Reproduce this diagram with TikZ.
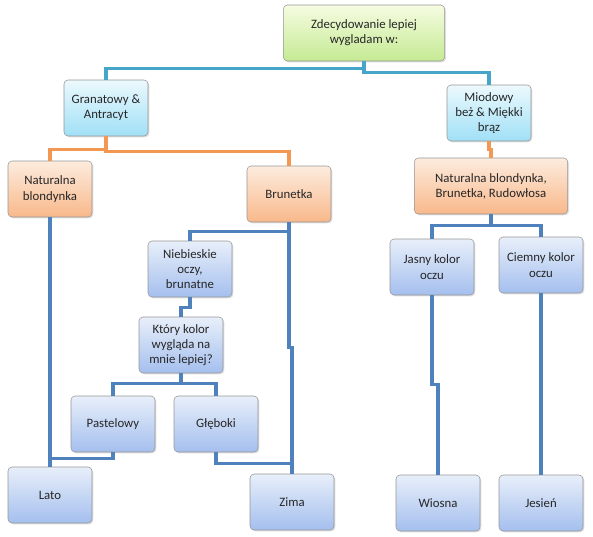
\documentclass[tikz,border=0pt]{standalone}
\usepackage{fontspec}
\setmainfont{Carlito}
\usetikzlibrary{shadows}
\definecolor{LineTeal}{RGB}{70,165,200}
\definecolor{LineOrange}{RGB}{242,152,82}
\definecolor{LineBlue}{RGB}{79,129,189}
\definecolor{BoxBorder}{RGB}{150,150,150}
\definecolor{GreenTop}{RGB}{246,252,226}
\definecolor{GreenBot}{RGB}{196,234,146}
\definecolor{CyanTop}{RGB}{236,249,253}
\definecolor{CyanBot}{RGB}{160,224,246}
\definecolor{OrangeTop}{RGB}{253,236,222}
\definecolor{OrangeBot}{RGB}{248,184,138}
\definecolor{BlueTop}{RGB}{232,239,250}
\definecolor{BlueBot}{RGB}{164,191,238}

\begin{document}
\begin{tikzpicture}[x=0.75pt,y=-0.75pt,
      card/.style={draw=BoxBorder,rounded corners=3pt,align=center,
        minimum width=63pt,minimum height=42pt,inner sep=2pt,
        font=\fontsize{9.6}{11.4}\selectfont,text=black!85,
        drop shadow={opacity=0.25,shadow xshift=1pt,shadow yshift=-1pt}},
      greenbox/.style={card,top color=GreenTop,bottom color=GreenBot},
      cyanbox/.style={card,top color=CyanTop,bottom color=CyanBot},
      orangebox/.style={card,top color=OrangeTop,bottom color=OrangeBot},
      bluebox/.style={card,top color=BlueTop,bottom color=BlueBot},
      link/.style={line width=2.4pt},
      tealflow/.style={link,draw=LineTeal},
      orangeflow/.style={link,draw=LineOrange},
      blueflow/.style={link,draw=LineBlue}
    ]
      \useasboundingbox (0,0) rectangle (593,536);
      % top level
      \node[greenbox,minimum width=121pt] (decide) at (364,33)
        {Zdecydowanie lepiej\\wygladam w:};
      \node[cyanbox] (granat) at (106,108) {Granatowy \&\\Antracyt};
      \node[cyanbox] (miodowy) at (489,113) {Miodowy\\beż \& Miękki\\brąz};
      % hair colour
      \node[orangebox] (blond) at (50,189) {Naturalna\\blondynka};
      \node[orangebox] (brunetka) at (289,194) {Brunetka};
      \node[orangebox,minimum width=115pt] (allhair) at (491,186)
        {Naturalna blondynka,\\Brunetka, Rudowłosa};
      % eyes
      \node[bluebox] (niebieskie) at (190,269) {Niebieskie\\oczy,\\brunatne};
      \node[bluebox] (ktory) at (181,345) {Który kolor\\wygląda na\\mnie lepiej?};
      \node[bluebox] (pastel) at (113,424) {Pastelowy};
      \node[bluebox] (gleboki) at (216,424) {Głęboki};
      \node[bluebox] (jasny) at (432,267) {Jasny kolor\\oczu};
      \node[bluebox] (ciemny) at (541,265) {Ciemny kolor\\oczu};
      % seasons
      \node[bluebox] (lato) at (50,495) {Lato};
      \node[bluebox] (zima) at (292,502) {Zima};
      \node[bluebox] (wiosna) at (438,503) {Wiosna};
      \node[bluebox] (jesien) at (541,503) {Jesień};
      \draw[tealflow] (decide.south) -- ++(0,7) -| (granat.north);
      \draw[tealflow] (decide.south) -- ++(0,11) -| (miodowy.north);
      \draw[orangeflow] (granat.south) -- ++(0,13) -| (blond.north);
      \draw[orangeflow] (granat.south) -- ++(0,15) -| (brunetka.north);
      \draw[orangeflow] (miodowy.south) -- ++(0,8) -| (allhair.north);
      \draw[blueflow] (allhair.south) -- ++(0,11) -| (jasny.north);
      \draw[blueflow] (allhair.south) -- ++(0,11) -| (ciemny.north);
      \draw[blueflow] (jasny.south) -- ++(0,89) -| (wiosna.north);
      \draw[blueflow] (ciemny.south) -- (jesien.north);
      \draw[blueflow] (blond.south) -- (lato.north);
      \draw[blueflow] (pastel.south) -- ++(0,6) -| (lato.north);
      \draw[blueflow] (brunetka.south) -- ++(0,9) -| (niebieskie.north);
      \draw[blueflow] (brunetka.south) -- ++(0,125) -| (zima.north);
      \draw[blueflow] (niebieskie.south) -- ++(0,10) -| (ktory.north);
      \draw[blueflow] (ktory.south) -- ++(0,10) -| (pastel.north);
      \draw[blueflow] (ktory.south) -- ++(0,10) -| (gleboki.north);
      \draw[blueflow] (gleboki.south) -- ++(0,11) -| (zima.north);
    \end{tikzpicture}
\end{document}
